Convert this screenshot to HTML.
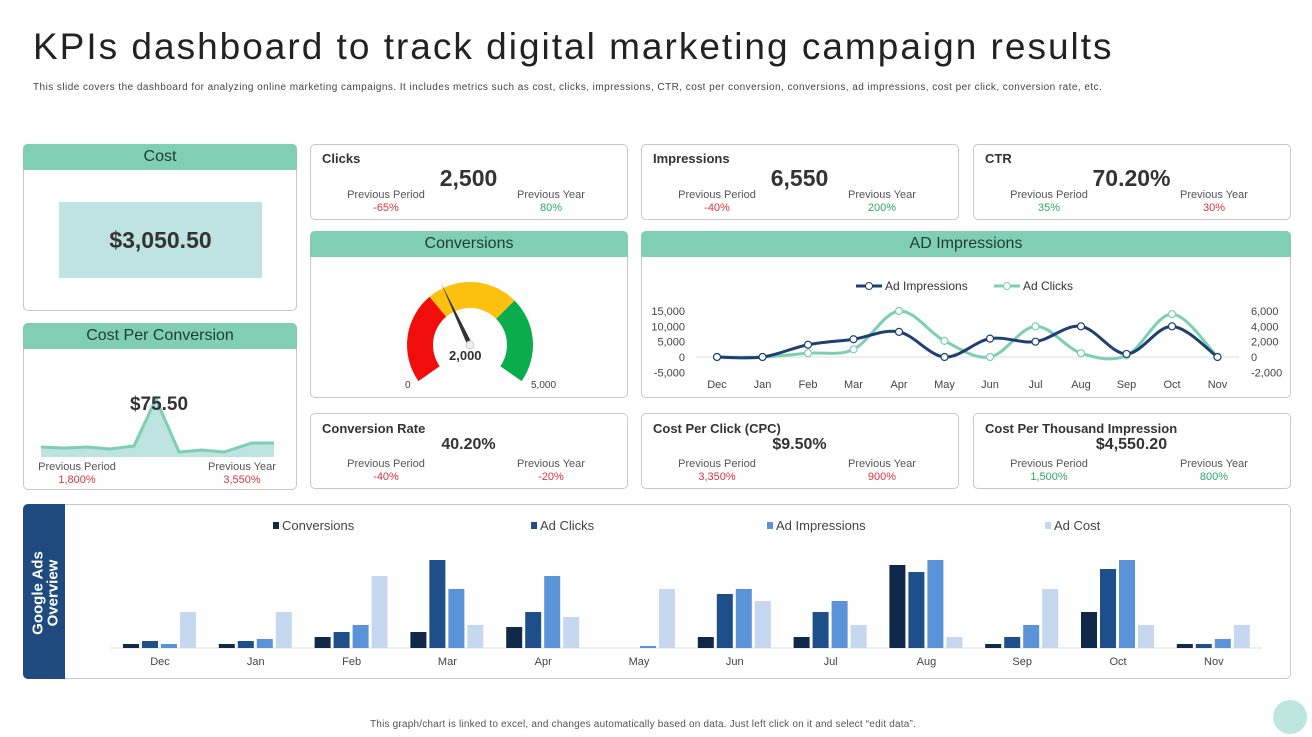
<!DOCTYPE html>
<html><head><meta charset="utf-8">
<style>
*{box-sizing:border-box;margin:0;padding:0}
body{width:1312px;height:736px;background:#fff;font-family:"Liberation Sans",sans-serif;position:relative;overflow:hidden;color:#333}
.abs{position:absolute}
.card{position:absolute;border:1px solid #c8c8c8;border-radius:5px;background:#fff}
.hdr{position:absolute;left:-1px;right:-1px;top:-1px;height:26px;background:#80cfb4;border-radius:5px 5px 0 0;text-align:center;font-size:16px;line-height:26px;color:#1f3d36}
.lbl{position:absolute;font-size:13px;font-weight:bold;color:#333}
.big{position:absolute;font-size:23px;font-weight:bold;color:#333;text-align:center}
.sub{position:absolute;font-size:11px;color:#555;text-align:center;width:120px;line-height:13px}
.red{color:#d9343f}.grn{color:#2ea86a}
</style></head><body>
<div class="abs" style="left:33px;top:26px;font-size:37px;color:#222;letter-spacing:2px;white-space:nowrap">KPIs dashboard to track digital marketing campaign results</div>
<div class="abs" style="left:33px;top:82px;font-size:10px;color:#444;letter-spacing:0.45px;white-space:nowrap">This slide covers the dashboard for analyzing online marketing campaigns. It includes metrics such as cost, clicks, impressions, CTR,  cost per conversion, conversions, ad impressions, cost per click, conversion rate, etc.</div>

<div class="card" style="left:23px;top:144px;width:274px;height:167px">
 <div class="hdr">Cost</div>
 <div class="abs" style="left:35px;top:57px;width:203px;height:76px;background:#bfe3e1;text-align:center;line-height:76px;font-size:23px;font-weight:bold;color:#333">$3,050.50</div>
</div>

<div class="card" style="left:23px;top:323px;width:274px;height:167px">
 <div class="hdr">Cost Per Conversion</div>
 <svg class="abs" style="left:0;top:0" width="274" height="167">
  <path d="M17,123 L40,124 L63,123 L86,125 L110,122 L132,75 L155,128 L178,126 L200,128 L228,119 L250,119 L250,133 L17,133 Z" fill="#bfe3e1"/>
  <path d="M17,123 L40,124 L63,123 L86,125 L110,122 L132,75 L155,128 L178,126 L200,128 L228,119 L250,119" fill="none" stroke="#7ccfb3" stroke-width="3"/>
 </svg>
 <div class="big" style="left:85px;top:70px;width:100px;font-size:19px">$75.50</div>
 <div class="sub" style="left:-7px;top:137px">Previous Period<br><span class="red">1,800%</span></div>
 <div class="sub" style="left:158px;top:137px">Previous Year<br><span class="red">3,550%</span></div>
</div>

<div class="card" style="left:310px;top:144px;width:318px;height:76px">
 <div class="lbl" style="left:11px;top:6px">Clicks</div>
 <div class="big" style="left:100px;top:20px;width:115px">2,500</div>
 <div class="sub" style="left:15px;top:44px">Previous Period<br><span class="red">-65%</span></div>
 <div class="sub" style="left:180px;top:44px">Previous Year<br><span class="grn">80%</span></div>
</div>
<div class="card" style="left:641px;top:144px;width:318px;height:76px">
 <div class="lbl" style="left:11px;top:6px">Impressions</div>
 <div class="big" style="left:100px;top:20px;width:115px">6,550</div>
 <div class="sub" style="left:15px;top:44px">Previous Period<br><span class="red">-40%</span></div>
 <div class="sub" style="left:180px;top:44px">Previous Year<br><span class="grn">200%</span></div>
</div>
<div class="card" style="left:973px;top:144px;width:318px;height:76px">
 <div class="lbl" style="left:11px;top:6px">CTR</div>
 <div class="big" style="left:90px;top:20px;width:135px">70.20%</div>
 <div class="sub" style="left:15px;top:44px">Previous Period<br><span class="grn">35%</span></div>
 <div class="sub" style="left:180px;top:44px">Previous Year<br><span class="red">30%</span></div>
</div>

<div class="card" style="left:310px;top:231px;width:318px;height:167px">
 <div class="hdr">Conversions</div>
 <svg class="abs" style="left:0;top:0" width="318" height="167" id="gauge"></svg>
 <div class="abs" style="left:138px;top:116px;font-size:13px;font-weight:bold">2,000</div>
 <div class="abs" style="left:94px;top:148px;font-size:10px;color:#444">0</div>
 <div class="abs" style="left:220px;top:148px;font-size:10px;color:#444">5,000</div>
</div>

<div class="card" style="left:641px;top:231px;width:650px;height:167px">
 <div class="hdr">AD Impressions</div>
 <svg class="abs" style="left:-641px;top:-231px" width="1312" height="736" id="line"></svg>
</div>

<div class="card" style="left:310px;top:413px;width:318px;height:76px">
 <div class="lbl" style="left:11px;top:7px">Conversion Rate</div>
 <div class="big" style="left:100px;top:22px;width:115px;font-size:16px">40.20%</div>
 <div class="sub" style="left:15px;top:44px">Previous Period<br><span class="red">-40%</span></div>
 <div class="sub" style="left:180px;top:44px">Previous Year<br><span class="red">-20%</span></div>
</div>
<div class="card" style="left:641px;top:413px;width:318px;height:76px">
 <div class="lbl" style="left:11px;top:7px">Cost Per Click (CPC)</div>
 <div class="big" style="left:100px;top:22px;width:115px;font-size:16px">$9.50%</div>
 <div class="sub" style="left:15px;top:44px">Previous Period<br><span class="red">3,350%</span></div>
 <div class="sub" style="left:180px;top:44px">Previous Year<br><span class="red">900%</span></div>
</div>
<div class="card" style="left:973px;top:413px;width:318px;height:76px">
 <div class="lbl" style="left:11px;top:7px">Cost Per Thousand Impression</div>
 <div class="big" style="left:90px;top:22px;width:135px;font-size:16px">$4,550.20</div>
 <div class="sub" style="left:15px;top:44px">Previous Period<br><span class="grn">1,500%</span></div>
 <div class="sub" style="left:180px;top:44px">Previous Year<br><span class="grn">800%</span></div>
</div>

<div class="card" style="left:23px;top:504px;width:1268px;height:175px">
 <div class="abs" style="left:-1px;top:-1px;width:42px;height:175px;background:#1e4a7f;border-radius:5px 0 0 5px"></div>
 <div class="abs" style="left:-46px;top:73px;width:135px;text-align:center;transform:rotate(-90deg);color:#fff;font-weight:bold;font-size:15px;line-height:15px">Google Ads<br>Overview</div>
</div>
<svg class="abs" style="left:0;top:0" width="1312" height="736" id="bars"></svg>

<div class="abs" style="left:370px;top:719px;font-size:10px;color:#555;letter-spacing:0.2px;white-space:nowrap">This graph/chart is linked to excel, and changes automatically based on data. Just left click on it and select “edit data”.</div>
<div class="abs" style="left:1273px;top:700px;width:34px;height:34px;border-radius:50%;background:#bde6e1"></div>

<script>
const NS="http://www.w3.org/2000/svg";
function mk(p,t,a){const e=document.createElementNS(NS,t);for(const k in a)e.setAttribute(k,a[k]);p.appendChild(e);return e;}

const gaugeValue=2000, gaugeMax=5000;
(function(){
 const g=document.getElementById('gauge');const cx=159,cy=113,R=63,r=37,A0=-125,A1=125;
 function pt(a,rad){const t=a*Math.PI/180;return [cx+rad*Math.sin(t),cy-rad*Math.cos(t)];}
 function arc(a,b,col){const p1=pt(a,R),p2=pt(b,R),p3=pt(b,r),p4=pt(a,r);const l=(b-a)>180?1:0;
  const e=mk(g,'path',{d:`M${p1} A${R},${R} 0 ${l} 1 ${p2} L${p3} A${r},${r} 0 ${l} 0 ${p4} Z`,fill:col});
  }
 arc(-125,-40,'#f20d0d');arc(-40,45,'#fcc10f');arc(45,125,'#0bac4c');
 const na=A0+(A1-A0)*gaugeValue/gaugeMax;const tip=pt(na,68),b1=pt(na+90,2.5),b2=pt(na-90,2.5);
 const n=mk(g,'polygon',{points:`${tip} ${b1} ${b2}`,fill:'#333'});
 
 mk(g,'circle',{cx:cx,cy:cy,r:4,fill:'#eee',stroke:'#ccc'});
})();

const lineMonths=["Dec","Jan","Feb","Mar","Apr","May","Jun","Jul","Aug","Sep","Oct","Nov"];
const adImpressions=[0,0,4000,5800,8200,0,6000,5000,10000,1000,10000,0];
const adClicks=[0,0,500,1000,6000,2100,0,4000,500,200,5600,0];
const leftTicks=[15000,10000,5000,0,-5000];
const rightTicks=[6000,4000,2000,0,-2000];
(function(){
 const s=document.getElementById('line');
 const xL=(i)=>716+i*45.5, yL=(v)=>356-v*46/15000, yR=(v)=>356-v*46/6000;
 mk(s,'line',{x1:695,x2:1238,y1:yL(0),y2:yL(0),stroke:'#ddd'});
 leftTicks.forEach(t=>{const e=mk(s,'text',{x:684,y:yL(t)+4,'text-anchor':'end','font-size':11,fill:'#444'});e.textContent=t.toLocaleString('en-US');});
 rightTicks.forEach(t=>{const e=mk(s,'text',{x:1250,y:yR(t)+4,'font-size':11,fill:'#444'});e.textContent=t.toLocaleString('en-US');});
 lineMonths.forEach((m,i)=>{const e=mk(s,'text',{x:xL(i),y:387,'text-anchor':'middle','font-size':11,fill:'#444'});e.textContent=m;});
 function curve(pts){let d=`M${pts[0]}`;for(let i=0;i<pts.length-1;i++){const p0=pts[i-1]||pts[i],p1=pts[i],p2=pts[i+1],p3=pts[i+2]||p2;
  d+=` C${p1[0]+(p2[0]-p0[0])/6},${p1[1]+(p2[1]-p0[1])/6} ${p2[0]-(p3[0]-p1[0])/6},${p2[1]-(p3[1]-p1[1])/6} ${p2[0]},${p2[1]}`;}return d;}
 [[adClicks,yR,'#7ccfb3','ad-clicks'],[adImpressions,yL,'#1e3f72','ad-impressions']].forEach(([vals,yf,col,nm])=>{
  const pts=vals.map((v,i)=>[xL(i),yf(v)]);
  const p=mk(s,'path',{d:curve(pts),fill:'none',stroke:col,'stroke-width':3});
  
  pts.forEach(q=>{const c=mk(s,'circle',{cx:q[0],cy:q[1],r:3.5,fill:'#fff',stroke:col,'stroke-width':1.2});
   });
 });
 [[855,'#1e3f72','Ad Impressions'],[993,'#7ccfb3','Ad Clicks']].forEach(([x,c,t])=>{
  mk(s,'line',{x1:x,x2:x+26,y1:285,y2:285,stroke:c,'stroke-width':3});
  mk(s,'circle',{cx:x+13,cy:285,r:3.5,fill:'#fff',stroke:c});
  const e=mk(s,'text',{x:x+29,y:289,'font-size':12,fill:'#333'});e.textContent=t;
  
 });
})();

const barMonths=["Dec","Jan","Feb","Mar","Apr","May","Jun","Jul","Aug","Sep","Oct","Nov"];
const conversions=[4,4,11,16,21,0,11,11,83,4,36,4];
const adClicksBar=[7,7,16,88,36,0,54,36,76,11,79,4];
const adImpressionsBar=[4,9,23,59,72,2,59,47,88,23,88,9];
const adCost=[36,36,72,23,31,59,47,23,11,59,23,23];
(function(){
 const s=document.getElementById('bars');
 const base=648,k=1.0,x0=160,step=95.8,bw=16;
 mk(s,'line',{x1:110,x2:1262,y1:base,y2:base,stroke:'#ddd'});
 const series=[[conversions,'#10284a','conversions'],[adClicksBar,'#1f4f8a','ad-clicks'],[adImpressionsBar,'#5b93d9','ad-impressions'],[adCost,'#c5d8f0','ad-cost']];
 barMonths.forEach((m,i)=>{
  const cx=x0+i*step;
  series.forEach(([vals,col,nm],j)=>{const h=vals[i]*k;
   const r=mk(s,'rect',{x:cx-37+j*19,y:base-h,width:bw,height:h,fill:col});
   });
  const t=mk(s,'text',{x:cx,y:665,'text-anchor':'middle','font-size':11,fill:'#444'});t.textContent=m;
 });
 [[273,'Conversions','#10284a'],[531,'Ad Clicks','#1f4f8a'],[767,'Ad Impressions','#5b93d9'],[1045,'Ad Cost','#c5d8f0']].forEach(([x,t,c])=>{
  mk(s,'rect',{x:x,y:522,width:6,height:7,fill:c});
  const e=mk(s,'text',{x:x+9,y:530,'font-size':13,fill:'#444'});e.textContent=t;
  
 });
})();
</script>
</body></html>
